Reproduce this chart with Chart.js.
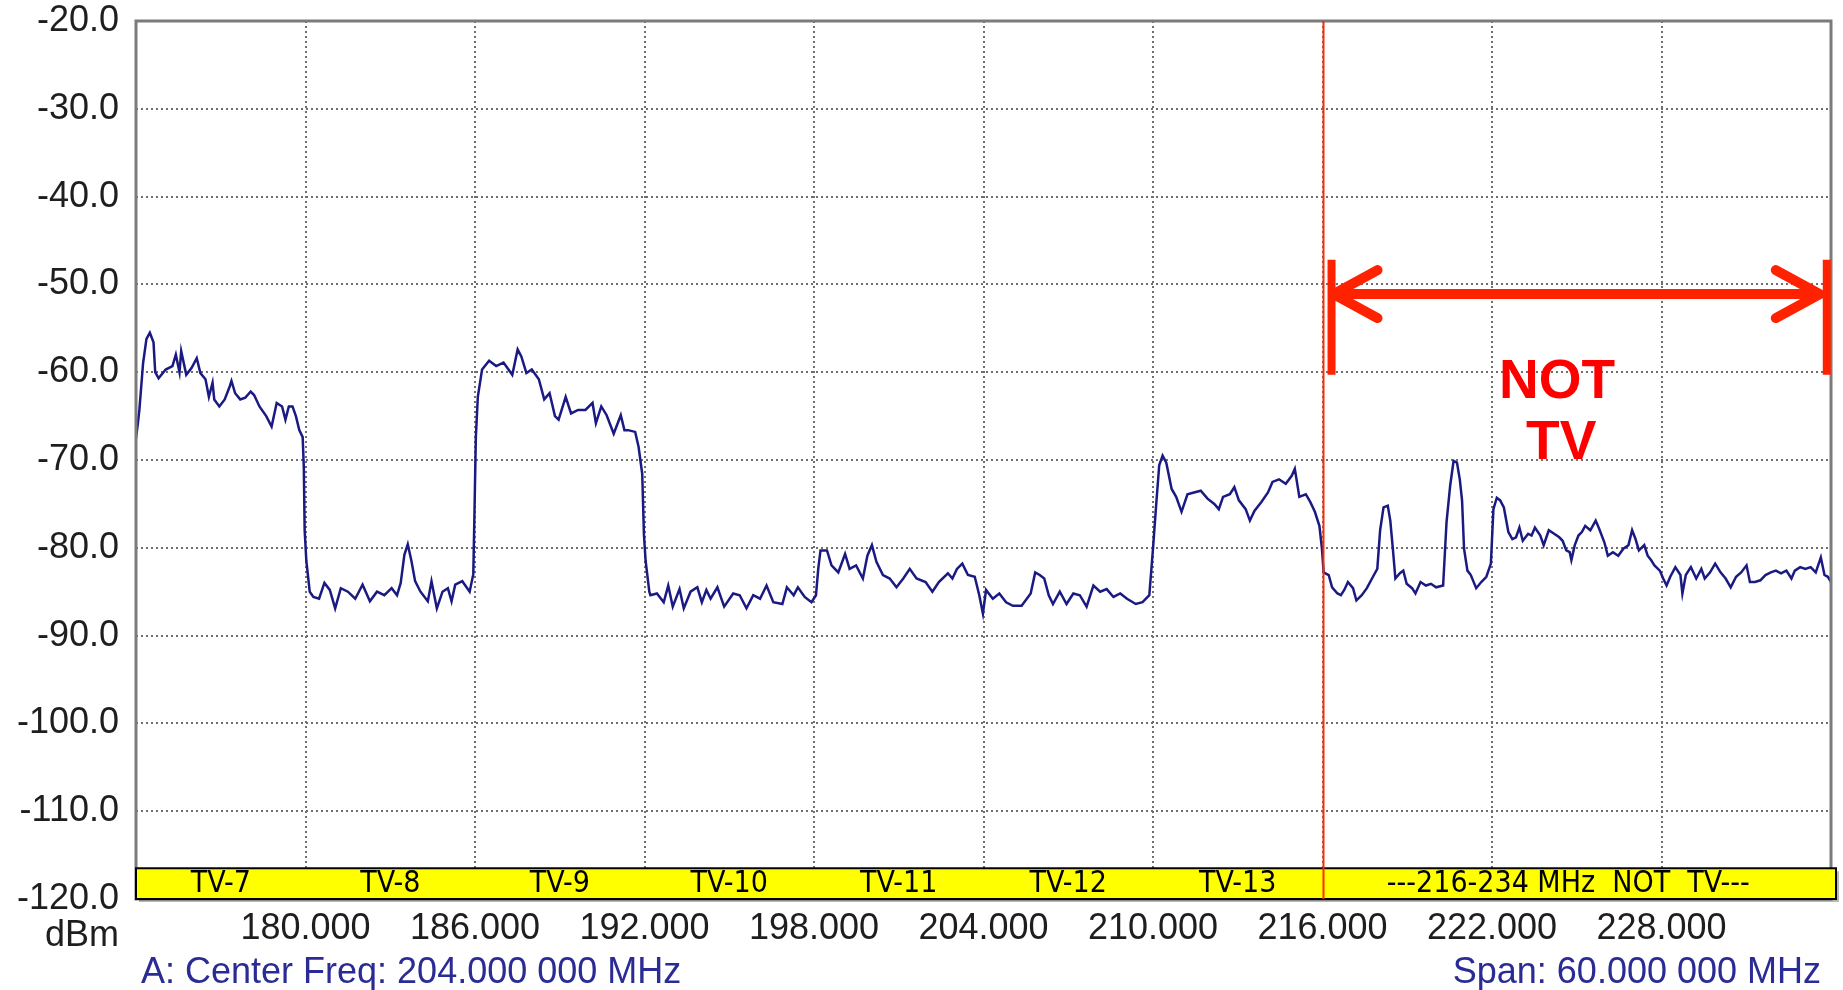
<!DOCTYPE html>
<html>
<head>
<meta charset="utf-8">
<script src="https://cdn.jsdelivr.net/npm/chart.js@4.4.1/dist/chart.umd.min.js"></script>
<style>
  html, body { margin: 0; padding: 0; background: #ffffff; }
  #wrap { position: relative; width: 1843px; height: 990px; }
</style>
</head>
<body>
<div id="wrap"><canvas id="c"></canvas></div>
<script>
// ---- Data ----
const freqMHz = [
  174.00,174.06,174.12,174.25,174.37,174.49,174.62,174.68,174.80,175.05,175.29,175.41,175.54,175.60,175.78,175.97,176.15,176.28,176.46,176.58,176.71,176.77,176.95,177.14,177.32,177.38,177.51,177.69,177.87,178.06,178.18,178.37,178.61,178.80,178.98,179.17,179.29,179.41,179.54,179.66,179.78,179.90,179.94,179.97,
  180.03,180.15,180.28,180.48,180.67,180.86,181.05,181.25,181.50,181.76,182.02,182.28,182.53,182.79,183.05,183.24,183.37,183.50,183.62,183.75,183.88,184.07,184.33,184.46,184.65,184.85,185.04,185.17,185.30,185.55,185.81,185.94,185.98,
  186.03,186.10,186.25,186.50,186.75,187.01,187.32,187.51,187.64,187.82,188.01,188.26,188.45,188.64,188.83,188.96,189.21,189.40,189.65,189.91,190.16,190.28,190.47,190.66,190.91,191.16,191.29,191.42,191.67,191.79,191.92,191.98,192.04,192.17,
  192.21,192.44,192.68,192.84,193.00,193.24,193.39,193.63,193.87,194.03,194.19,194.34,194.58,194.82,195.14,195.37,195.61,195.85,196.09,196.32,196.56,196.88,197.04,197.28,197.43,197.67,197.91,198.07,
  198.15,198.23,198.46,198.62,198.86,199.10,199.26,199.49,199.73,199.89,200.05,200.21,200.44,200.68,200.92,201.16,201.39,201.63,201.95,202.19,202.42,202.74,202.90,203.06,203.25,203.45,203.69,203.85,203.98,
  204.09,204.33,204.56,204.80,205.04,205.35,205.67,205.83,205.99,206.15,206.31,206.46,206.70,206.94,207.18,207.41,207.65,207.89,208.13,208.36,208.60,208.84,209.08,209.39,209.63,209.87,
  210.00,210.11,210.22,210.34,210.47,210.66,210.82,211.01,211.22,211.45,211.69,211.93,212.17,212.33,212.48,212.72,212.88,213.04,213.28,213.43,213.59,213.83,214.07,214.23,214.46,214.70,214.91,215.02,215.18,215.41,215.57,215.73,215.89,215.98,
  216.04,216.22,216.34,216.53,216.65,216.77,216.90,217.08,217.20,217.39,217.57,217.82,217.94,218.04,218.16,218.31,218.40,218.49,218.58,218.74,218.86,218.98,219.17,219.29,219.47,219.66,219.84,220.02,220.27,220.39,220.52,220.64,220.76,220.86,220.94,221.01,221.13,221.25,221.44,221.62,221.80,221.96,
  222.05,222.17,222.29,222.42,222.58,222.72,222.85,222.97,223.09,223.28,223.40,223.52,223.71,223.83,224.01,224.20,224.38,224.50,224.63,224.75,224.81,224.93,225.06,225.18,225.30,225.48,225.67,225.79,225.98,226.10,226.28,226.47,226.65,226.83,226.96,227.08,227.20,227.39,227.51,227.63,227.75,227.94,
  228.06,228.18,228.31,228.49,228.67,228.74,228.86,229.04,229.23,229.41,229.53,229.72,229.90,230.09,230.27,230.45,230.64,230.82,231.01,231.13,231.31,231.50,231.68,231.87,232.05,232.23,232.42,232.60,232.72,232.91,233.09,233.28,233.46,233.64,233.77,233.89,234.00
];
const levelDbm = [
  -67.5,-66.0,-64.3,-59.0,-56.2,-55.5,-56.6,-60.0,-60.7,-59.7,-59.3,-58.0,-60.0,-57.6,-60.3,-59.5,-58.4,-60.1,-60.8,-62.8,-61.2,-63.1,-63.9,-63.1,-61.6,-61.0,-62.4,-63.1,-62.9,-62.2,-62.6,-63.9,-65.0,-66.2,-63.5,-63.9,-65.4,-63.9,-63.9,-65.0,-66.6,-67.4,-70.8,-78.0,
  -81.5,-85.0,-85.6,-85.8,-84.0,-84.8,-86.9,-84.6,-85.0,-85.8,-84.2,-86.1,-85.0,-85.4,-84.6,-85.4,-84.0,-80.8,-79.6,-81.5,-83.8,-85.0,-86.1,-83.8,-86.9,-85.0,-84.6,-86.1,-84.2,-83.8,-85.0,-83.0,-76.2,
  -67.4,-62.8,-59.7,-58.7,-59.3,-58.9,-60.3,-57.4,-58.2,-60.1,-59.7,-60.8,-63.1,-62.4,-65.0,-65.4,-62.8,-64.7,-64.3,-64.3,-63.5,-65.8,-63.9,-64.9,-67.0,-64.9,-66.6,-66.6,-66.8,-68.5,-71.6,-78.5,-81.5,-85.0,
  -85.4,-85.2,-86.2,-84.3,-86.7,-84.7,-86.9,-85.0,-84.5,-86.2,-84.8,-85.8,-84.5,-86.7,-85.2,-85.4,-86.9,-85.4,-85.8,-84.3,-86.2,-86.4,-84.5,-85.4,-84.5,-85.6,-86.2,-85.4,
  -82.4,-80.3,-80.3,-82.0,-82.8,-80.7,-82.4,-82.0,-83.5,-80.9,-79.7,-81.6,-83.1,-83.5,-84.5,-83.5,-82.4,-83.5,-83.9,-85.0,-83.9,-82.9,-83.5,-82.4,-81.8,-83.1,-83.3,-85.4,-87.5,
  -84.8,-85.8,-85.2,-86.2,-86.6,-86.6,-85.2,-82.8,-83.1,-83.5,-85.4,-86.4,-85.0,-86.4,-85.2,-85.4,-86.7,-84.3,-85.0,-84.7,-85.6,-85.2,-85.8,-86.4,-86.2,-85.4,
  -80.1,-75.2,-70.6,-69.5,-70.3,-73.3,-74.2,-75.9,-73.9,-73.7,-73.5,-74.4,-75.0,-75.6,-74.2,-73.9,-73.1,-74.6,-75.6,-76.9,-75.8,-74.8,-73.7,-72.5,-72.2,-72.7,-71.8,-71.0,-74.2,-73.9,-74.8,-75.9,-77.5,-80.1,
  -82.8,-83.1,-84.5,-85.2,-85.4,-84.8,-83.9,-84.6,-86.0,-85.4,-84.6,-83.1,-82.4,-78.0,-75.4,-75.2,-76.9,-80.1,-83.5,-82.9,-82.6,-84.1,-84.6,-85.2,-83.9,-84.3,-84.1,-84.5,-84.3,-77.1,-72.9,-70.1,-70.3,-72.2,-74.6,-80.1,-82.6,-83.1,-84.6,-83.9,-83.3,-81.8,
  -75.6,-74.3,-74.6,-75.4,-78.2,-79.0,-78.8,-77.7,-79.2,-78.4,-78.6,-77.7,-78.6,-79.7,-78.0,-78.4,-78.8,-79.2,-80.3,-80.5,-81.4,-79.7,-78.6,-78.2,-77.5,-78.0,-76.9,-77.8,-79.4,-80.9,-80.5,-80.9,-80.1,-79.7,-78.0,-79.0,-80.3,-79.7,-80.9,-81.4,-82.0,-82.6,
  -83.5,-84.3,-83.3,-82.2,-83.1,-85.2,-83.1,-82.2,-83.5,-82.4,-83.5,-82.8,-81.8,-82.8,-83.5,-84.5,-83.3,-82.8,-82.0,-83.9,-83.9,-83.7,-83.1,-82.8,-82.6,-82.9,-82.6,-83.5,-82.6,-82.2,-82.4,-82.2,-82.8,-81.1,-83.1,-83.3,-83.9
];

const freqMin = 174, freqMax = 234, freqStep = 6;
const dbmMin = -120, dbmMax = -20, dbmStep = 10;

const channelNames = ['TV-7','TV-8','TV-9','TV-10','TV-11','TV-12','TV-13'];
const channelLowMHz = [174, 180, 186, 192, 198, 204, 210];
const channelWidthMHz = 6;
const notTvText = '---216-234 MHz  NOT  TV---';
const notTvLowMHz = 216, notTvHighMHz = 234;
const unitText = 'dBm';
const centerFreqText = 'A: Center Freq: 204.000 000 MHz';
const spanText = 'Span: 60.000 000 MHz';

// ---- Build dataset ----
const n = Math.min(freqMHz.length, levelDbm.length);
const tracePoints = [];
for (let i = 0; i < n; i++) tracePoints.push({ x: freqMHz[i], y: levelDbm[i] });

const FONT = '"Liberation Sans", Arial, Helvetica, sans-serif';

const overlay = {
  id: 'overlay',
  afterDatasetsDraw(chart) {
    const { ctx, chartArea: a, scales: { x, y } } = chart;
    ctx.save();

    // plot frame
    ctx.strokeStyle = '#7b7b7b';
    ctx.lineWidth = 3;
    ctx.strokeRect(a.left, a.top, a.right - a.left, a.bottom - a.top);

    // yellow channel band
    const bTop = y.getPixelForValue(-116.5);
    const bBot = y.getPixelForValue(dbmMin);
    const bLeft = a.left;
    const bRight = a.right + 5;
    ctx.fillStyle = 'rgba(0,0,0,0.28)';
    ctx.fillRect(bLeft + 3, bTop + 3, bRight - bLeft, bBot - bTop);
    ctx.fillStyle = '#ffff00';
    ctx.fillRect(bLeft, bTop, bRight - bLeft, bBot - bTop);
    ctx.strokeStyle = '#000000';
    ctx.lineWidth = 2;
    ctx.strokeRect(bLeft, bTop, bRight - bLeft, bBot - bTop);

    ctx.fillStyle = '#000000';
    ctx.font = '30px "Liberation Sans Narrow", "DejaVu Sans Condensed", sans-serif';
    ctx.textAlign = 'center';
    ctx.textBaseline = 'middle';
    const bMid = (bTop + bBot) / 2 + 1;
    channelNames.forEach((name, i) => {
      ctx.fillText(name, x.getPixelForValue(channelLowMHz[i] + channelWidthMHz / 2), bMid);
    });
    ctx.fillText(notTvText, x.getPixelForValue((notTvLowMHz + notTvHighMHz) / 2 - 0.3), bMid);

    // red marker line at 216 MHz
    const rx = Math.round(x.getPixelForValue(notTvLowMHz)) + 0.5;
    ctx.strokeStyle = '#ff2a00';
    ctx.lineWidth = 2;
    ctx.beginPath();
    ctx.moveTo(rx, a.top);
    ctx.lineTo(rx, bBot);
    ctx.stroke();

    // double-headed arrow across the NOT TV range
    const red = '#ff2200';
    const lx = x.getPixelForValue(216.32);
    const rxx = x.getPixelForValue(233.85);
    const ay = y.getPixelForValue(-51.1);
    const barTop = y.getPixelForValue(-47.2);
    const barBot = y.getPixelForValue(-60.3);
    ctx.strokeStyle = red;
    ctx.lineCap = 'butt';
    ctx.lineWidth = 8;
    ctx.beginPath();
    ctx.moveTo(lx, barTop); ctx.lineTo(lx, barBot);
    ctx.moveTo(rxx, barTop); ctx.lineTo(rxx, barBot);
    ctx.stroke();
    ctx.lineWidth = 10;
    ctx.beginPath();
    ctx.moveTo(lx + 4, ay); ctx.lineTo(rxx - 8, ay);
    ctx.stroke();
    ctx.lineCap = 'round';
    ctx.lineJoin = 'round';
    const tipL = lx + 2, tipR = rxx - 7;
    ctx.beginPath();
    ctx.moveTo(tipL + 44, ay - 24); ctx.lineTo(tipL, ay); ctx.lineTo(tipL + 44, ay + 24);
    ctx.moveTo(tipR - 44, ay - 24); ctx.lineTo(tipR, ay); ctx.lineTo(tipR - 44, ay + 24);
    ctx.stroke();

    // NOT TV annotation
    ctx.fillStyle = '#ff0000';
    ctx.font = 'bold 55px ' + FONT;
    ctx.textAlign = 'center';
    ctx.textBaseline = 'middle';
    ctx.fillText('NOT', x.getPixelForValue(224.3), y.getPixelForValue(-61.2));
    ctx.fillText('TV', x.getPixelForValue(224.45), y.getPixelForValue(-68.2));

    // unit + footer text
    ctx.font = '36px ' + FONT;
    ctx.fillStyle = '#1e1e1e';
    ctx.textAlign = 'right';
    ctx.fillText(unitText, a.left - 17, 936);
    ctx.fillStyle = '#2b2b95';
    ctx.textAlign = 'left';
    ctx.fillText(centerFreqText, a.left + 5, 973);
    ctx.textAlign = 'right';
    ctx.fillText(spanText, a.right - 10, 973);

    ctx.restore();
  }
};

new Chart(document.getElementById('c'), {
  type: 'line',
  data: {
    datasets: [{
      data: tracePoints,
      borderColor: '#1a1a82',
      borderWidth: 2.5,
      pointRadius: 0,
      tension: 0,
      fill: false
    }]
  },
  options: {
    responsive: true,
    maintainAspectRatio: false,
    devicePixelRatio: 1,
    animation: false,
    layout: { padding: { top: 21, right: 12, left: 0, bottom: 0 } },
    plugins: { legend: { display: false }, tooltip: { enabled: false } },
    scales: {
      x: {
        type: 'linear',
        min: freqMin, max: freqMax,
        afterFit(s) { s.height = 91; s.paddingLeft = 0; s.paddingRight = 0; },
        ticks: {
          stepSize: freqStep,
          autoSkip: false,
          maxRotation: 0,
          padding: 8,
          color: '#1e1e1e',
          font: { family: FONT, size: 36 },
          callback: (v) => (v === freqMin || v === freqMax) ? '' : Number(v).toFixed(3)
        },
        grid: { color: '#6e6e6e', lineWidth: 2, drawTicks: false },
        border: { display: false, dash: [2, 3] }
      },
      y: {
        min: dbmMin, max: dbmMax,
        afterFit(s) { s.width = 136; s.paddingTop = 0; s.paddingBottom = 0; },
        ticks: {
          stepSize: dbmStep,
          padding: 17,
          color: '#1e1e1e',
          font: { family: FONT, size: 36 },
          callback: (v) => Number(v).toFixed(1)
        },
        grid: { color: '#6e6e6e', lineWidth: 2, drawTicks: false },
        border: { display: false, dash: [2, 3] }
      }
    }
  },
  plugins: [overlay]
});
</script>
</body>
</html>
